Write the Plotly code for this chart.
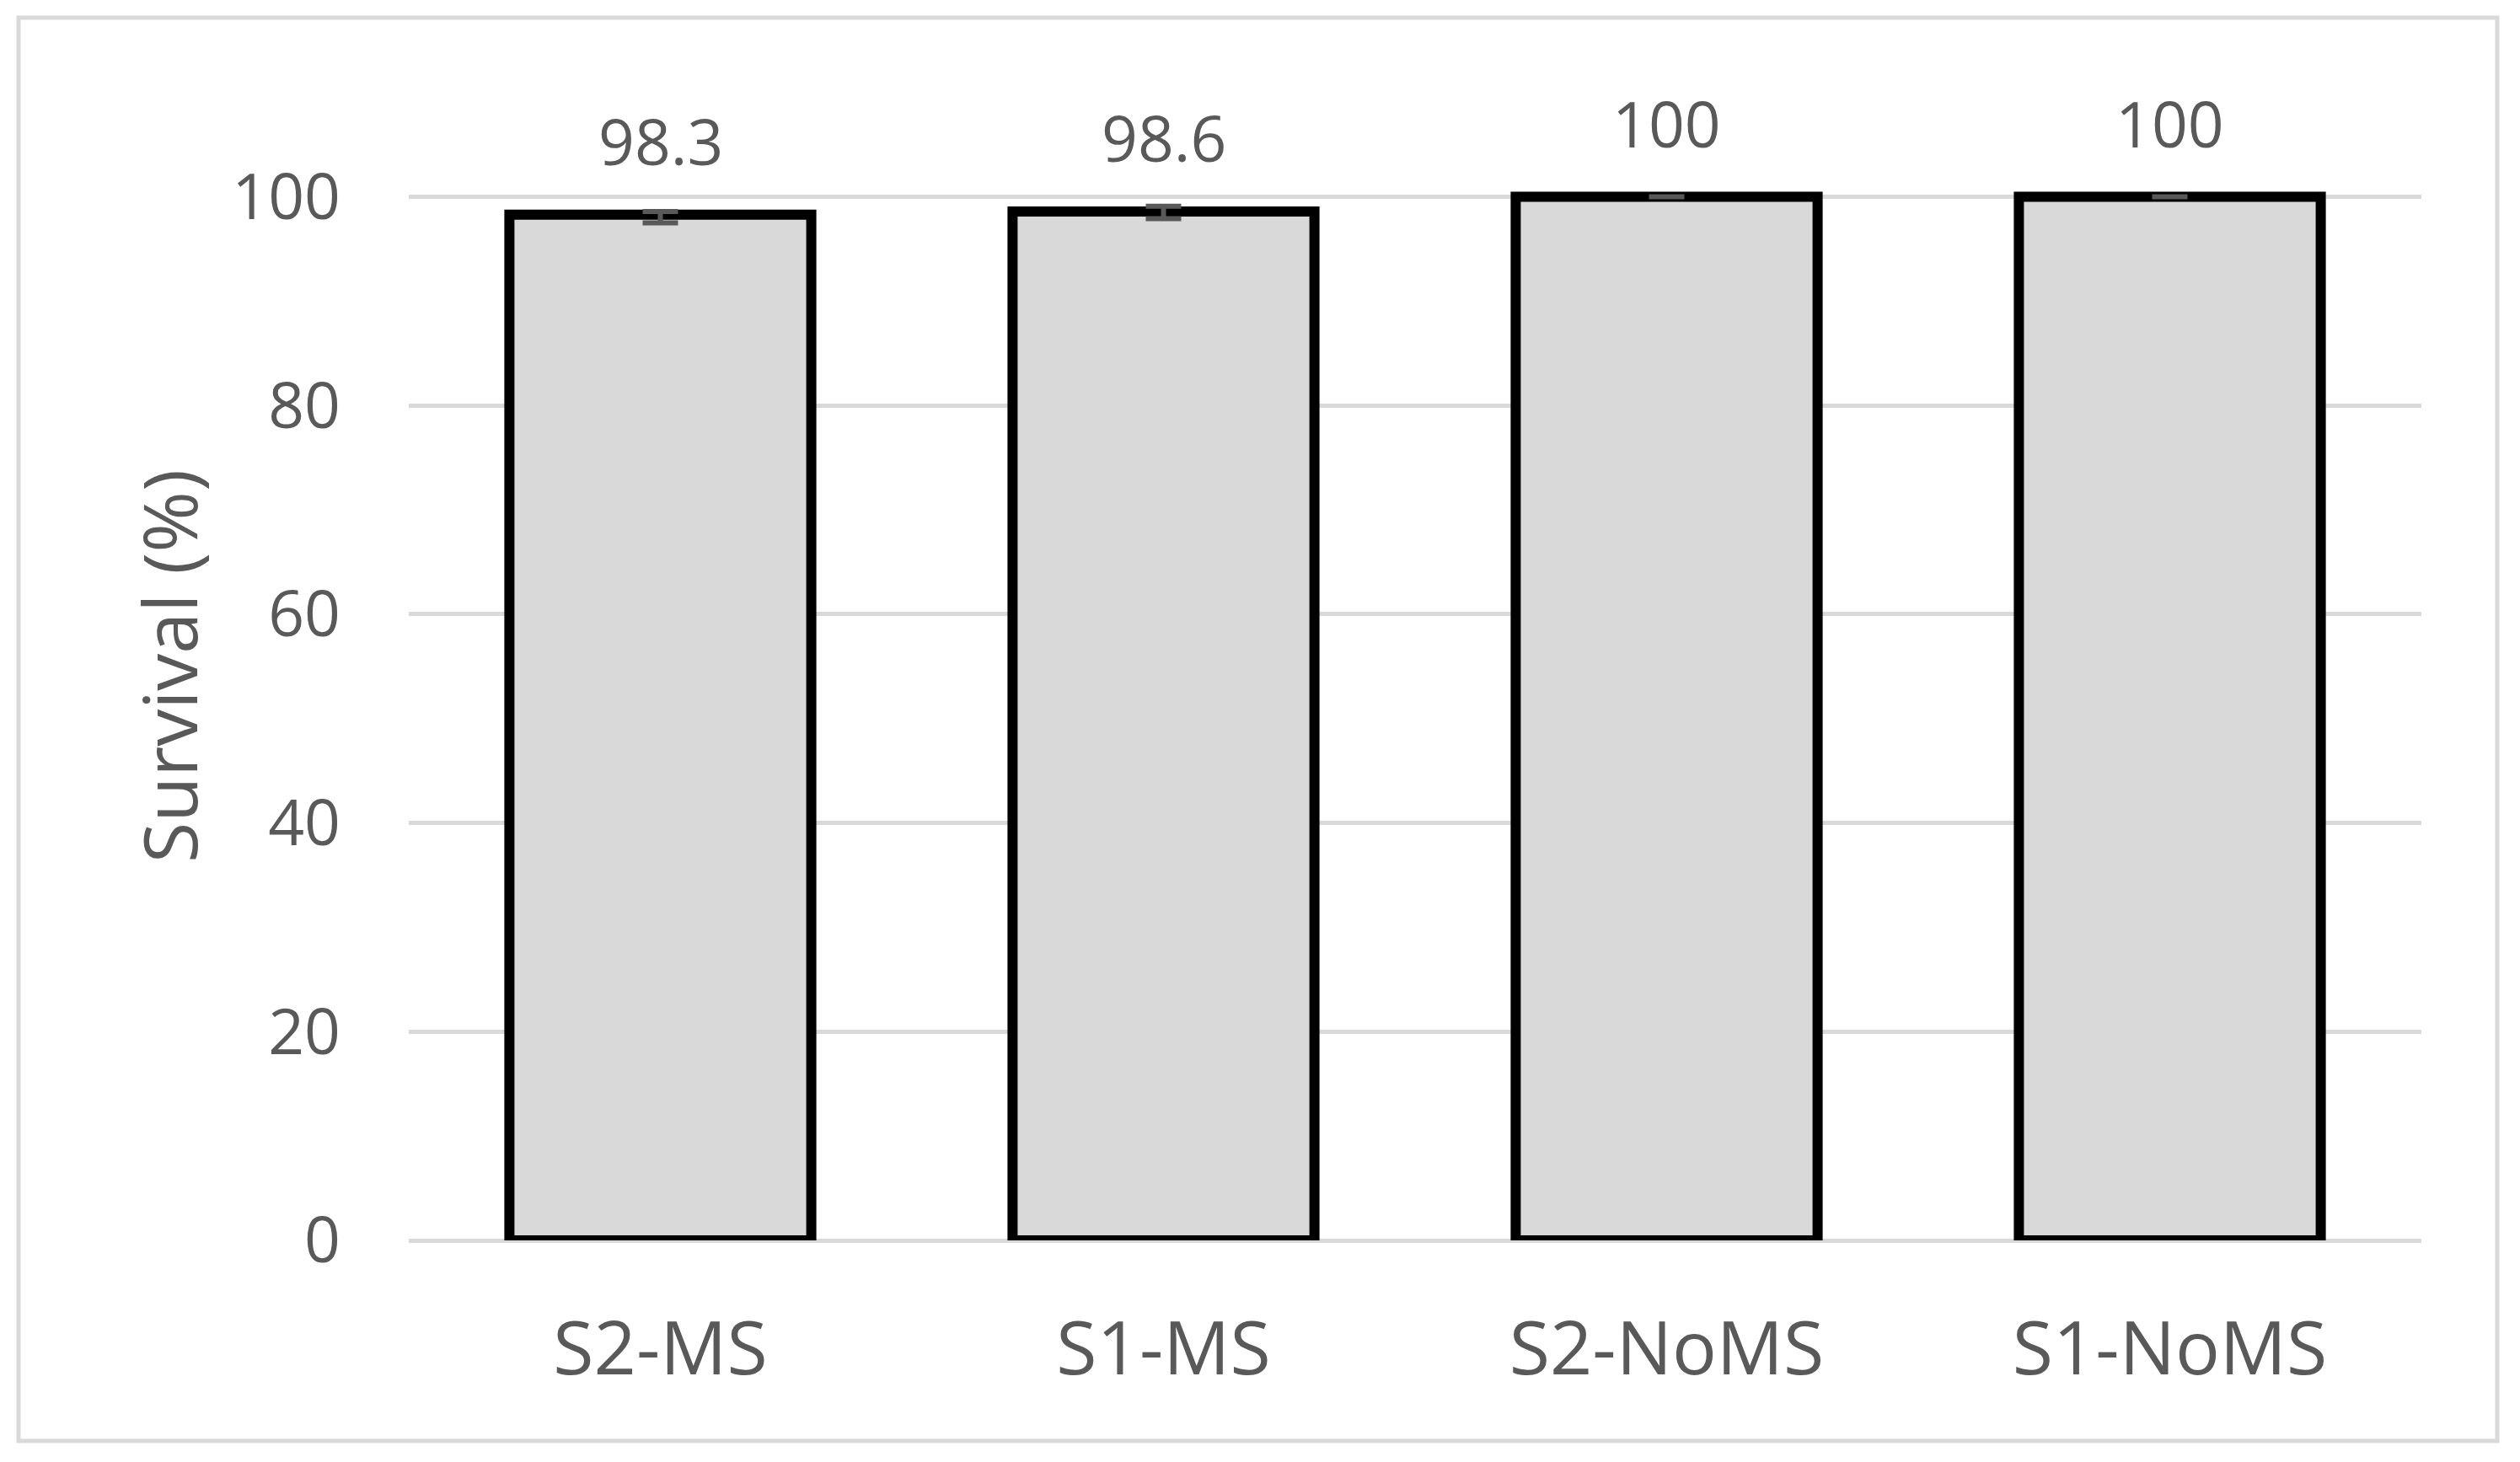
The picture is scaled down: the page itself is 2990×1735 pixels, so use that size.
import plotly.graph_objects as go

categories = ["S2-MS", "S1-MS", "S2-NoMS", "S1-NoMS"]
survival = [98.3, 98.6, 100, 100]
err_plus = [0.3, 0.5, 0, 0]
err_minus = [0.8, 0.7, 0, 0]
value_labels = ["98.3", "98.6", "100", "100"]
y_ticks = [0, 20, 40, 60, 80, 100]
y_title = "Survival (%)"

# page body has an 8px default margin; figure sized to fit the window
OFF = 8
W, H = 2990 - OFF, 1735 - OFF
L = 485 - OFF
T = 85 - OFF
R = W - (2873 - OFF)
B = H - (1472 - OFF)
PW, PH = W - L - R, H - T - B
GRAY_TXT = "#595959"
LIGHT = "#d9d9d9"
FONT = "Open Sans"


def px_to_paper_x(px):
    return (px - OFF - L) / PW


def px_to_paper_y(py):
    return (H - B - (py - OFF)) / PH


fig = go.Figure(
    go.Bar(
        x=categories,
        y=survival,
        width=0.6,
        marker=dict(color=LIGHT, line=dict(color="black", width=12)),
        error_y=dict(type="data", symmetric=False, array=err_plus, arrayminus=err_minus,
                     color=GRAY_TXT, thickness=6, width=21),
        cliponaxis=False,
        hoverinfo="skip",
    )
)

for c, v, lab in zip(categories, survival, value_labels):
    fig.add_annotation(
        x=c, y=v, text=lab, showarrow=False, yshift=88, yanchor="middle",
        font=dict(family=FONT, size=75, color=GRAY_TXT),
    )

fig.add_annotation(
    xref="paper", yref="paper", x=px_to_paper_x(200), y=px_to_paper_y(791),
    text=y_title, textangle=-90, showarrow=False, xanchor="center", yanchor="middle",
    font=dict(family=FONT, size=88, color=GRAY_TXT),
)

fig.add_shape(
    type="rect", xref="paper", yref="paper",
    x0=px_to_paper_x(22), x1=px_to_paper_x(2963),
    y0=px_to_paper_y(1710), y1=px_to_paper_y(21),
    line=dict(color=LIGHT, width=5), fillcolor="rgba(0,0,0,0)", layer="below",
)

fig.update_layout(
    width=W, height=H,
    margin=dict(l=L, r=R, t=T, b=B, autoexpand=False),
    paper_bgcolor="white", plot_bgcolor="white",
    showlegend=False,
    font=dict(family=FONT, color=GRAY_TXT),
    xaxis=dict(
        showgrid=False, showline=False, zeroline=False, ticks="",
        tickfont=dict(size=88, color=GRAY_TXT), ticklabelstandoff=70,
    ),
    yaxis=dict(
        range=[0, 112], tickvals=y_ticks, showgrid=True, gridcolor=LIGHT, gridwidth=5,
        zeroline=True, zerolinecolor=LIGHT, zerolinewidth=5, showline=False, ticks="",
        tickfont=dict(size=75, color=GRAY_TXT), ticklabelstandoff=80,
    ),
)

fig.write_html("out.html")
